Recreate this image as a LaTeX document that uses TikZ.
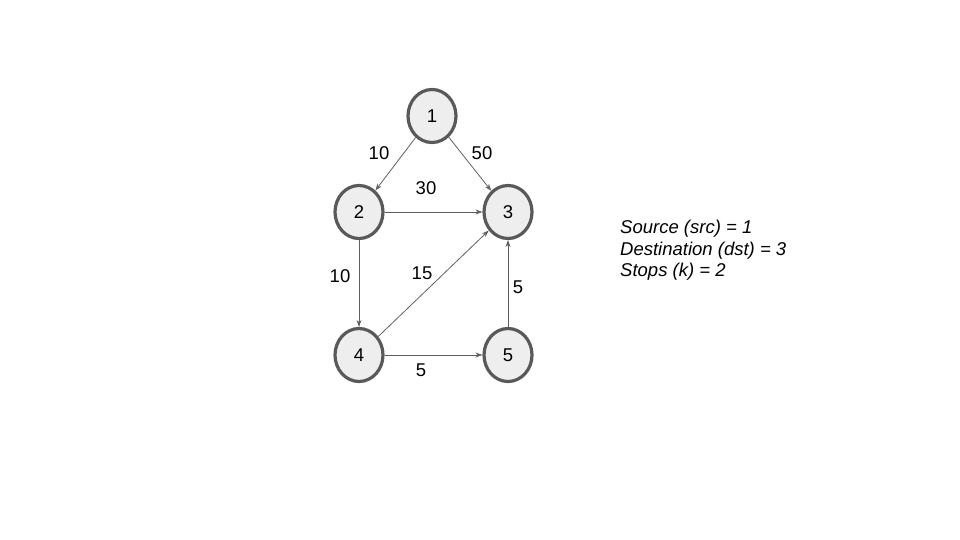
\documentclass[tikz,border=0pt]{standalone}
\usepackage{fontspec}
\setmainfont{Liberation Sans}
\usetikzlibrary{shapes.geometric,arrows.meta}
\definecolor{nodefill}{HTML}{EEEEEE}
\definecolor{nodeline}{HTML}{595959}
\definecolor{edgecol}{HTML}{5F5F5F}
\begin{document}
\begin{tikzpicture}[x=1pt,y=-1pt,
  vert/.style={ellipse,draw=nodeline,fill=nodefill,line width=3.2pt,minimum width=48pt,minimum height=53pt,inner sep=0pt,font=\fontsize{18.5}{22}\selectfont},
  edge/.style={draw=edgecol,line width=0.8pt,-{Stealth[length=7pt,width=5pt]}},
  lbl/.style={font=\fontsize{18.5}{22}\selectfont,inner sep=0pt}]
\useasboundingbox (0,0) rectangle (960,540);
\node[vert] (n1) at (432,116) {1};
\node[vert] (n2) at (359,212) {2};
\node[vert] (n3) at (508,212) {3};
\node[vert] (n4) at (359,355) {4};
\node[vert] (n5) at (508,355) {5};
\draw[edge] (n1) -- (n2);
\draw[edge] (n1) -- (n3);
\draw[edge] (n2) -- (n3);
\draw[edge] (n2) -- (n4);
\draw[edge] (n4) -- (n3);
\draw[edge] (n4) -- (n5);
\draw[edge] (n5) -- (n3);
\node[lbl] (l12) at (379,153) {10};
\node[lbl] (l13) at (482,153) {50};
\node[lbl] (l23) at (426,188) {30};
\node[lbl] (l24) at (340,276) {10};
\node[lbl] (l43) at (422,273) {15};
\node[lbl] (l53) at (518,287) {5};
\node[lbl] (l45) at (421,370) {5};
\node[anchor=north west,align=left,inner sep=0pt,font=\fontsize{18.5}{21.5}\selectfont\itshape] (info) at (620,220) {Source (src) = 1\\Destination (dst) = 3\\Stops (k) = 2};
\end{tikzpicture}
\end{document}
